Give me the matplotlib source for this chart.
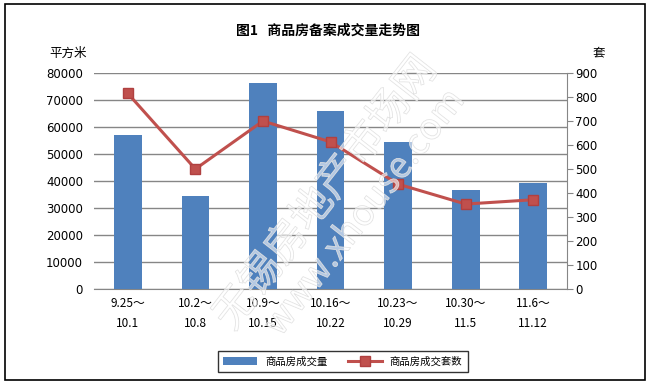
import matplotlib
matplotlib.use("Agg")
import matplotlib.pyplot as plt
import matplotlib.patheffects as pe
from matplotlib.patches import Rectangle

plt.rcParams['font.family'] = ['Noto Sans CJK SC', 'DejaVu Sans']

categories = ["9.25～\n10.1", "10.2～\n10.8", "10.9～\n10.15", "10.16～\n10.22",
              "10.23～\n10.29", "10.30～\n11.5", "11.6～\n11.12"]
area = [57000, 34400, 76200, 65800, 54400, 36600, 39200]
units = [815, 500, 700, 613, 437, 354, 372]
left_ticks = [0, 10000, 20000, 30000, 40000, 50000, 60000, 70000, 80000]
right_ticks = [0, 100, 200, 300, 400, 500, 600, 700, 800, 900]

fig = plt.figure(figsize=(6.52, 3.87), dpi=100)
fig.patches.append(Rectangle((0.008, 0.018), 0.982, 0.972, transform=fig.transFigure,
                             fill=False, edgecolor='black', linewidth=1.2))

ax = fig.add_axes([0.1442, 0.2532, 0.7255, 0.5581])
x = list(range(len(categories)))
bar_color = '#4F81BD'
line_color = '#C0504D'
ax.bar(x, area, width=0.41, color=bar_color, zorder=3, label='商品房成交量')
ax.set_ylim(0, 80000)
ax.set_xlim(-0.5, 6.5)
ax.set_yticks(left_ticks)
ax.set_yticklabels([str(v) for v in left_ticks], fontsize=8.5, family=['DejaVu Sans'])
ax.yaxis.grid(True, color='#868686', linewidth=1, zorder=0)
ax.set_axisbelow(True)
ax.tick_params(axis='y', length=0, pad=8)
ax.tick_params(axis='x', length=0, pad=6)
ax.set_xticks(x)
ax.set_xticklabels(categories, fontsize=8.5, linespacing=1.7)
for s in ['top', 'left', 'right']:
    ax.spines[s].set_visible(False)
ax.spines['bottom'].set_color('#868686')

ax2 = ax.twinx()
ax2.plot(x, units, color=line_color, linewidth=2.2, marker='s', markersize=7,
         markerfacecolor=line_color, markeredgecolor='#B04040', zorder=4, label='商品房成交套数')
ax2.set_ylim(0, 900)
ax2.set_yticks(right_ticks)
ax2.set_yticklabels([str(v) for v in right_ticks], fontsize=8.5, family=['DejaVu Sans'])
ax2.tick_params(axis='y', direction='out', length=4, color='#868686', pad=2)
for s in ['top', 'left', 'bottom']:
    ax2.spines[s].set_visible(False)
ax2.spines['right'].set_color('#868686')

fig.text(0.503, 0.921, '图1   商品房备案成交量走势图', ha='center', va='center',
         fontsize=10, fontweight='bold')
fig.text(0.105, 0.863, '平方米', ha='center', va='center', fontsize=9)
fig.text(0.918, 0.863, '套', ha='center', va='center', fontsize=9)

# faint outlined watermark
wm = [pe.withStroke(linewidth=0.6, foreground=(0.86, 0.86, 0.86, 0.9))]
fig.text(0.50, 0.50, '无锡房地产市场网', rotation=52, ha='center', va='center',
         fontsize=30, color=(1, 1, 1, 0.35), path_effects=wm, zorder=10)
fig.text(0.56, 0.45, 'www.xhouse.com', rotation=52, ha='center', va='center',
         fontsize=26, color=(1, 1, 1, 0.35), path_effects=wm, zorder=10)

h1, l1 = ax.get_legend_handles_labels()
h2, l2 = ax2.get_legend_handles_labels()
leg = fig.legend(h1 + h2, l1 + l2, loc='center', bbox_to_anchor=(0.526, 0.0655),
                 ncol=2, fontsize=7.5, frameon=True, fancybox=False, edgecolor='black',
                 handlelength=3.2, columnspacing=2.0, borderpad=0.5)
leg.get_frame().set_linewidth(1)

fig.savefig('out.png', dpi=100)
